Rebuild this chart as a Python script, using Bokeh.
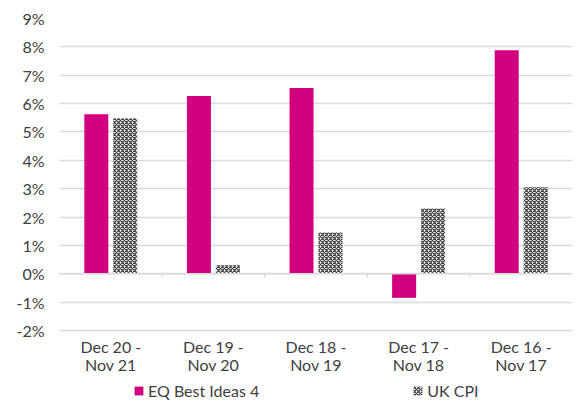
from bokeh.plotting import figure
from bokeh.models import (ColumnDataSource, Range1d, FixedTicker, Span,
                          PrintfTickFormatter, Legend, LegendItem)
from bokeh.transform import dodge
from bokeh.embed import file_html
from bokeh.resources import INLINE

# ---- data ----
categories = ["Dec 20 -\nNov 21", "Dec 19 -\nNov 20", "Dec 18 -\nNov 19",
              "Dec 17 -\nNov 18", "Dec 16 -\nNov 17"]
eq_best_ideas_4 = [5.62, 6.27, 6.55, -0.85, 7.88]
uk_cpi = [5.48, 0.30, 1.45, 2.30, 3.05]
y_ticks = [-2, -1, 0, 1, 2, 3, 4, 5, 6, 7, 8, 9]

MAGENTA = "#d2007f"
TEXT = "#404040"
GRID = "#d9d9d9"
FONT = "Lato"

x = list(range(len(categories)))
source = ColumnDataSource(dict(x=x, eq=eq_best_ideas_4, cpi=uk_cpi))

# frame extends below the lowest tick to leave room for labels + legend
y_low = min(y_ticks) - 2.47

p = figure(width=572, height=400, output_backend="svg", toolbar_location=None,
           x_range=Range1d(-0.5, len(categories) - 0.5),
           y_range=Range1d(y_low, max(y_ticks)),
           min_border_left=59, min_border_right=0, min_border_top=18,
           min_border_bottom=0)
p.outline_line_color = None
p.background_fill_color = "white"
p.border_fill_color = "white"

# zero line with category-boundary ticks
p.add_layout(Span(location=0, dimension="width", line_color=GRID, line_width=1.3))
bounds = [i - 0.5 for i in range(len(categories) + 1)]
p.segment(x0=bounds, x1=bounds, y0=[0] * len(bounds), y1=[-0.13] * len(bounds),
          line_color=GRID, line_width=1.3)

r1 = p.vbar(x=dodge("x", -0.141), top="eq", width=0.234, source=source,
            fill_color=MAGENTA, line_color=None)
r2 = p.vbar(x=dodge("x", 0.141), top="cpi", width=0.234, source=source,
            fill_color="white", line_color=None,
            hatch_pattern="diagonal_cross", hatch_color="#4a4a4a",
            hatch_scale=4, hatch_weight=1.3)

# y axis
p.yaxis.ticker = FixedTicker(ticks=y_ticks)
p.yaxis.formatter = PrintfTickFormatter(format="%d%%")
p.yaxis.axis_line_color = None
p.yaxis.major_tick_line_color = None
p.yaxis.major_tick_out = 0
p.yaxis.minor_tick_line_color = None
p.yaxis.major_label_standoff = 15
p.yaxis.major_label_text_font = FONT
p.yaxis.major_label_text_font_size = "16px"
p.yaxis.major_label_text_color = TEXT

p.ygrid.ticker = FixedTicker(ticks=y_ticks)
p.ygrid.grid_line_color = GRID
p.ygrid.grid_line_width = 1.3
p.xgrid.grid_line_color = None

# x axis labels, anchored at the bottom gridline
p.xaxis.fixed_location = min(y_ticks)
p.xaxis.ticker = FixedTicker(ticks=x)
p.xaxis.major_label_overrides = {i: c for i, c in enumerate(categories)}
p.xaxis.axis_line_color = None
p.xaxis.major_tick_line_color = None
p.xaxis.major_tick_out = 0
p.xaxis.major_tick_in = 0
p.xaxis.minor_tick_line_color = None
p.xaxis.major_label_standoff = 7
p.xaxis.major_label_text_font = FONT
p.xaxis.major_label_text_font_size = "16px"
p.xaxis.major_label_text_color = TEXT
p.xaxis.major_label_text_line_height = 0.9

legend = Legend(items=[LegendItem(label="EQ Best Ideas 4", renderers=[r1]),
                       LegendItem(label="UK CPI", renderers=[r2])],
                orientation="horizontal", location=(74, 0),
                border_line_color=None, background_fill_alpha=0,
                glyph_width=11, glyph_height=11, label_standoff=4,
                spacing=153, padding=0, margin=0,
                label_text_font=FONT, label_text_font_size="16px",
                label_text_color=TEXT)
p.add_layout(legend)

open("out.html", "w").write(file_html(p, INLINE))
